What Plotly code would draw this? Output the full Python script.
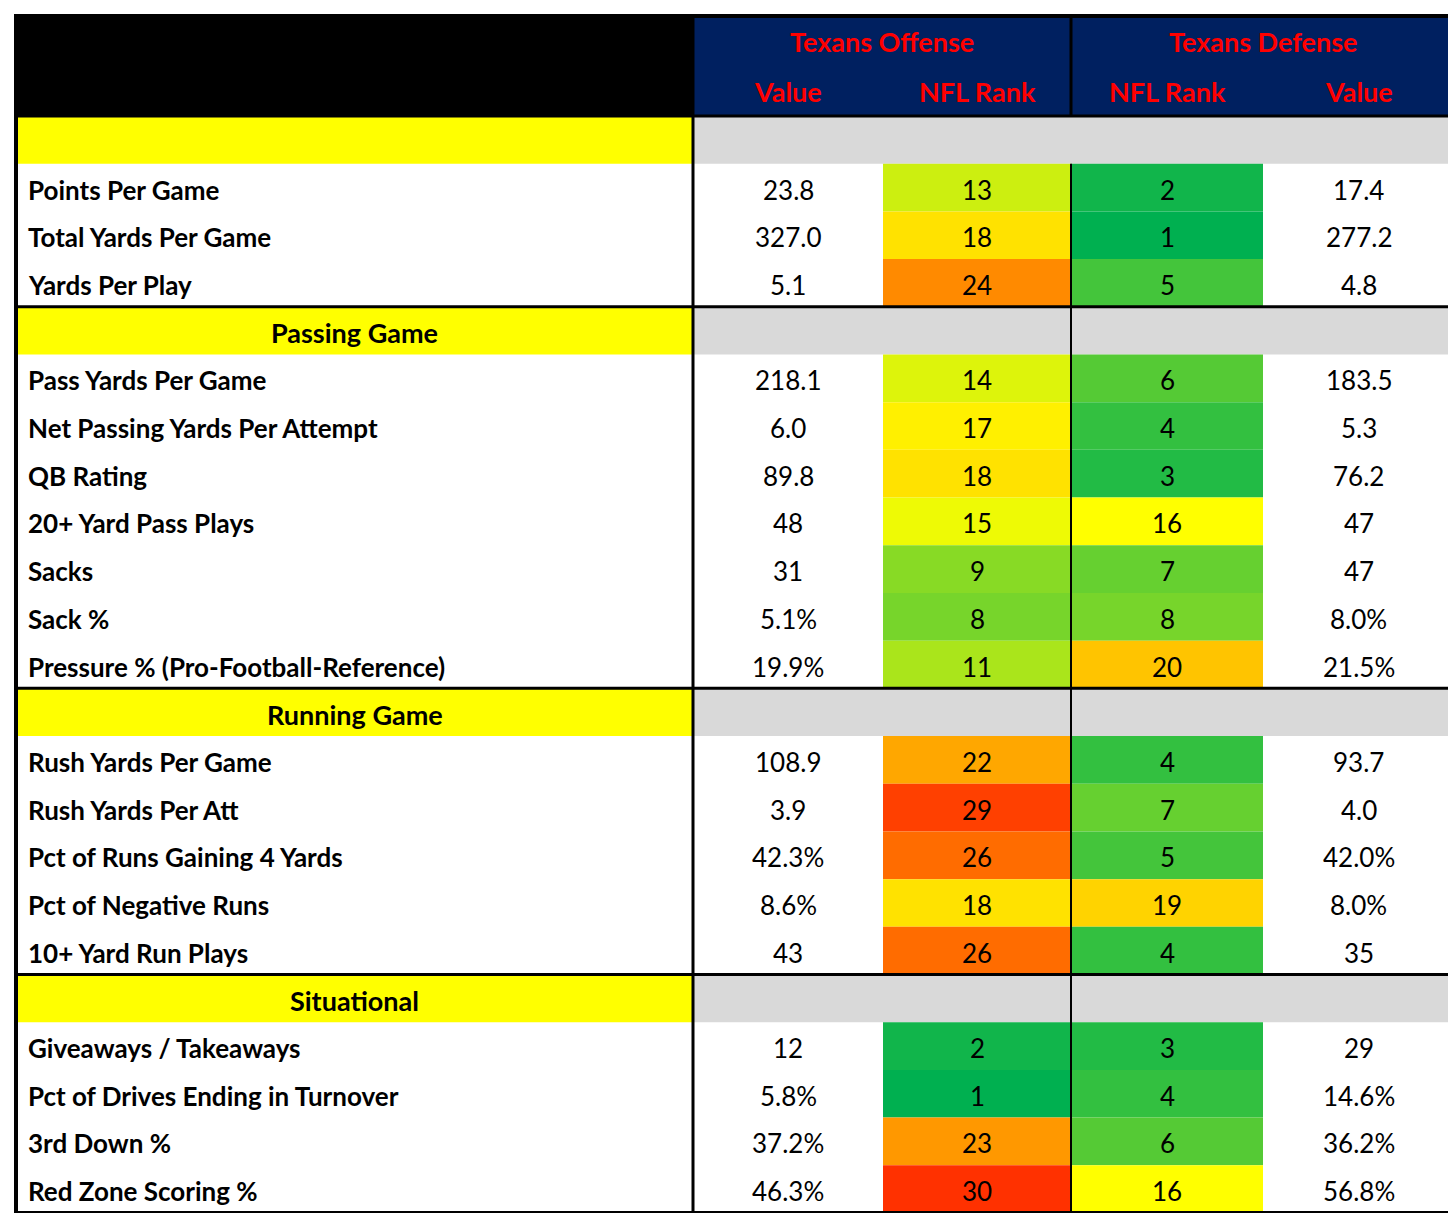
import plotly.graph_objects as go

# ---- data ----
sections = ["", "Passing Game", "Running Game", "Situational"]
labels = [
    ["Points Per Game", "Total Yards Per Game", "Yards Per Play"],
    ["Pass Yards Per Game", "Net Passing Yards Per Attempt", "QB Rating", "20+ Yard Pass Plays",
     "Sacks", "Sack %", "Pressure % (Pro-Football-Reference)"],
    ["Rush Yards Per Game", "Rush Yards Per Att", "Pct of Runs Gaining 4 Yards",
     "Pct of Negative Runs", "10+ Yard Run Plays"],
    ["Giveaways / Takeaways", "Pct of Drives Ending in Turnover", "3rd Down %", "Red Zone Scoring %"],
]
off_value = [["23.8", "327.0", "5.1"],
             ["218.1", "6.0", "89.8", "48", "31", "5.1%", "19.9%"],
             ["108.9", "3.9", "42.3%", "8.6%", "43"],
             ["12", "5.8%", "37.2%", "46.3%"]]
off_rank = [[13, 18, 24], [14, 17, 18, 15, 9, 8, 11], [22, 29, 26, 18, 26], [2, 1, 23, 30]]
def_rank = [[2, 1, 5], [6, 4, 3, 16, 7, 8, 20], [4, 7, 5, 19, 4], [3, 4, 6, 16]]
def_value = [["17.4", "277.2", "4.8"],
             ["183.5", "5.3", "76.2", "47", "47", "8.0%", "21.5%"],
             ["93.7", "4.0", "42.0%", "8.0%", "35"],
             ["29", "14.6%", "36.2%", "56.8%"]]


def rank_color(r):
    g, y, rd = (0, 176, 80), (255, 255, 0), (255, 20, 0)
    if r <= 16:
        t = (r - 1) / 15
        a, b = g, y
    else:
        t = (r - 16) / 16
        a, b = y, rd
    c = [round(a[i] + (b[i] - a[i]) * t) for i in range(3)]
    return "rgb(%d,%d,%d)" % tuple(c)


# ---- geometry ----
X = [8, 685, 875, 1063, 1255, 1446]
TOP, HEAD = 8, 108
BOTTOM = 1205
n_rows = len(sections) + sum(len(l) for l in labels)
RH = (BOTTOM - HEAD) / n_rows
FONT = "Lato"

shapes, ann = [], []


def rect(x0, y0, x1, y1, color):
    shapes.append(dict(type="rect", xref="x", yref="y", x0=x0, x1=x1, y0=y0, y1=y1,
                       fillcolor=color, line=dict(width=0), layer="below"))


def line(x0, y0, x1, y1, w=3):
    shapes.append(dict(type="line", xref="x", yref="y", x0=x0, x1=x1, y0=y0, y1=y1,
                       line=dict(color="black", width=w)))


def text(x, y, s, size=26, color="black", bold=False, anchor="center"):
    ann.append(dict(x=x, y=y, xref="x", yref="y", text="<b>%s</b>" % s if bold else s,
                    showarrow=False, xanchor=anchor, yanchor="middle",
                    font=dict(family=FONT, size=size, color=color)))


# header
rect(X[0], TOP, X[1], HEAD, "black")
rect(X[1], TOP, X[5], HEAD, "#002060")
red = "#FF0000"
text((X[1] + X[3]) / 2, 33, "Texans Offense", 27, red, True)
text((X[3] + X[5]) / 2, 33, "Texans Defense", 27, red, True)
for i, s in enumerate(["Value", "NFL Rank", "NFL Rank", "Value"]):
    text((X[i + 1] + X[i + 2]) / 2, 83, s, 27, red, True)

y = HEAD
for si, sec in enumerate(sections):
    rect(X[0], y, X[1], y + RH, "#FFFF00")
    rect(X[1], y, X[5], y + RH, "#D9D9D9")
    if si > 0:
        line(X[0], y, X[5], y)
    text((X[0] + X[1]) / 2, y + RH / 2 + 2, sec, 27, bold=True)
    y += RH
    for ri, lab in enumerate(labels[si]):
        cy = y + RH / 2 + 2
        rect(X[2], y, X[3], y + RH, rank_color(off_rank[si][ri]))
        rect(X[3], y, X[4], y + RH, rank_color(def_rank[si][ri]))
        text(X[0] + 10, cy, lab, 26, bold=True, anchor="left")
        text((X[1] + X[2]) / 2, cy, off_value[si][ri])
        text((X[2] + X[3]) / 2, cy, str(off_rank[si][ri]))
        text((X[3] + X[4]) / 2, cy, str(def_rank[si][ri]))
        text((X[4] + X[5]) / 2, cy, def_value[si][ri])
        y += RH

line(X[0], HEAD, X[5], HEAD)
line(X[1], TOP, X[1], BOTTOM)
line(X[3], TOP, X[3], HEAD, 3)
line(X[3], HEAD + RH, X[3], BOTTOM, 2)
shapes.append(dict(type="rect", xref="x", yref="y", x0=X[0], x1=X[5], y0=TOP, y1=BOTTOM,
                   line=dict(color="black", width=4)))

fig = go.Figure()
fig.update_layout(width=1456, height=1213, margin=dict(l=0, r=0, t=0, b=0),
                  plot_bgcolor="white", paper_bgcolor="white",
                  shapes=shapes, annotations=ann, showlegend=False)
fig.update_xaxes(range=[0, 1456], visible=False, fixedrange=True)
fig.update_yaxes(range=[1213, 0], visible=False, fixedrange=True)
fig.write_html("out.html")
